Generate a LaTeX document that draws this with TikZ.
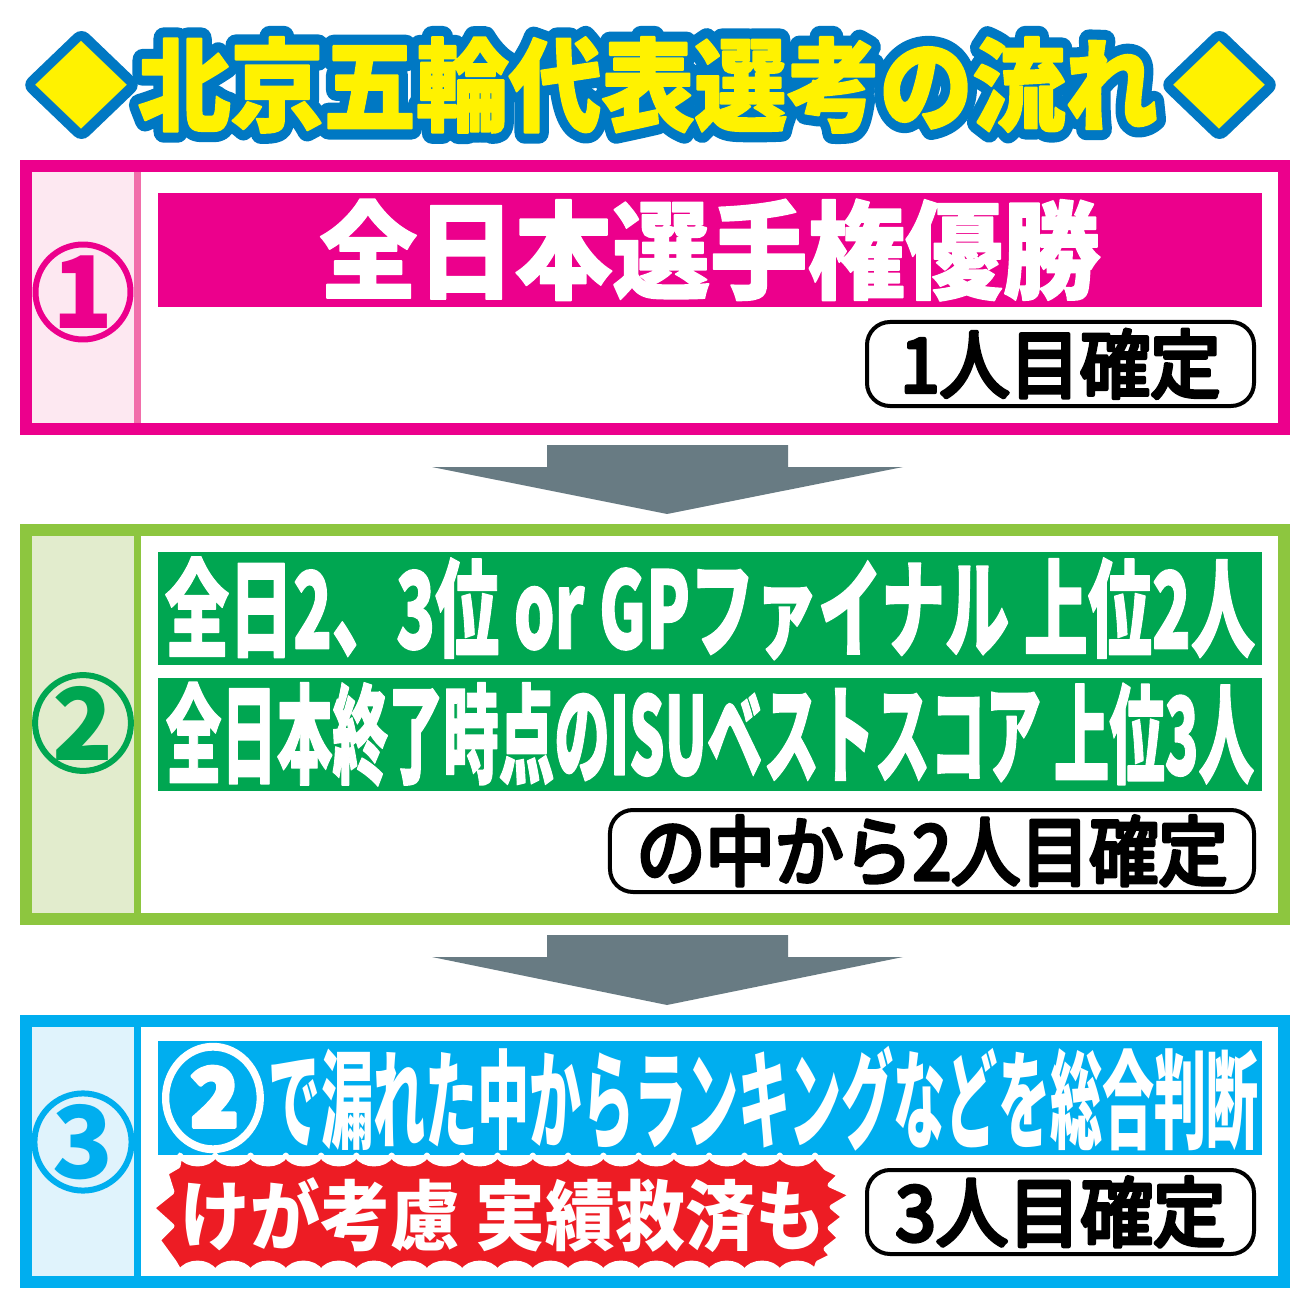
\documentclass[tikz,border=0pt]{standalone}
\usepackage{fontspec}
\usepackage{graphicx}
\usetikzlibrary{calc, positioning}
\newfontfamily\jpfont{Noto Sans CJK JP}
\definecolor{ttl_blue}{RGB}{0,120,195}
\definecolor{ttl_yellow}{RGB}{255,242,0}
\definecolor{pk}{RGB}{236,0,140}
\definecolor{pk_mid}{RGB}{241,110,170}
\definecolor{pk_light}{RGB}{253,232,241}
\definecolor{gr_border}{RGB}{141,198,63}
\definecolor{gr_light}{RGB}{226,236,205}
\definecolor{gr_bar}{RGB}{0,166,81}
\definecolor{bl}{RGB}{0,174,239}
\definecolor{bl_light}{RGB}{224,243,252}
\definecolor{burst_red}{RGB}{237,28,36}
\definecolor{arrow_grey}{RGB}{104,123,131}
% text drawn filled and stroked (#1 = stroke width)
\newcommand{\strokedtxt}[2]{\special{pdf:literal direct 2 Tr 1 j #1 w}#2\special{pdf:literal direct 0 Tr}}

\begin{document}
\begin{tikzpicture}[x=0.2mm, y=-0.2mm,
    frame/.style={draw=#1, line width=2.4mm, minimum width=251.6mm, outer sep=1.2mm, inner sep=0},
    bar/.style={fill=#1, text=white, minimum width=220.8mm, inner sep=0, font=\jpfont\bfseries},
    result/.style={draw=black, fill=white, line width=0.8mm, rounded corners=4.6mm, inner sep=0, font=\jpfont},
    num/.style={circle, draw=#1, text=#1, line width=1.2mm, minimum size=17.2mm, inner sep=0, font=\jpfont\bfseries\fontsize{57}{57}\selectfont},
    ttl/.style={inner sep=0, font=\jpfont\bfseries},
    flowarrow/.style={fill=arrow_grey}]
    \fill[white] (0,0) rectangle (1300,1298);

    % title: blue outlined copy under the yellow one
    \node[ttl, text=ttl_blue] (ttl_o) at (648,85) {\resizebox*{204mm}{19.2mm}{\strokedtxt{2.2}{北京五輪代表選考の流れ}}};
    \node[ttl, text=ttl_blue] (dl_o) at (81.5,85) {\resizebox*{18.8mm}{17.6mm}{\strokedtxt{2.2}{◆}}};
    \node[ttl, text=ttl_blue] (dr_o) at (1219.5,85) {\resizebox*{18.8mm}{17.6mm}{\strokedtxt{2.2}{◆}}};
    \node[ttl, text=ttl_yellow] (ttl) at (ttl_o) {\resizebox*{204mm}{19.2mm}{\strokedtxt{0.2}{北京五輪代表選考の流れ}}};
    \node[ttl, text=ttl_yellow] (dl) at (dl_o) {\resizebox*{18.8mm}{17.6mm}{◆}};
    \node[ttl, text=ttl_yellow] (dr) at (dr_o) {\resizebox*{18.8mm}{17.6mm}{◆}};

    % left columns
    \foreach \t/\b/\cl/\cm in {172/423/pk_light/pk_mid, 536/913/gr_light/gr_border, 1027/1276/bl_light/bl} {
        \fill[\cl] (32,\t) rectangle (134,\b);
        \draw[\cm, line width=1.4mm] (137.5,\t) -- (137.5,\b);
    }

    \node[frame=pk, minimum height=52.6mm] (box1) at (655,297.5) {};
    \node[frame=gr_border, minimum height=77.8mm] (box2) at (655,724.5) {};
    \node[frame=bl, minimum height=52.2mm] (box3) at (655,1151.5) {};

    \node[num=pk] (n1) at (83,292) {1};
    \node[num=gr_bar] (n2) at (83,723) {2};
    \node[num=bl] (n3) at (83,1142) {3};

    % step 1
    \node[bar=pk, minimum height=22.8mm] (bar1) at (710,250) {\resizebox*{156.2mm}{20.4mm}{\strokedtxt{0.15}{全日本選手権優勝}}\hspace{6.8mm}};
    \node[result, minimum width=77.4mm, minimum height=16.8mm] (res1) at (1060.5,364) {\resizebox*{64mm}{13.8mm}{\strokedtxt{0.55}{1人目確定}}};

    % step 2
    \node[bar=gr_bar, minimum height=22.6mm] (bar2a) at (710,608.5) {\resizebox*{218mm}{20.6mm}{\strokedtxt{0.15}{全日2、3位 or GPファイナル 上位2人}}};
    \node[bar=gr_bar, minimum height=22.6mm, below=2.4mm of bar2a] (bar2b) {\resizebox*{217.6mm}{20.8mm}{\strokedtxt{0.15}{全日本終了時点のISUベストスコア 上位3人}}};
    \node[result, minimum width=128.8mm, minimum height=16.4mm] (res2) at (932,851) {\resizebox*{118.2mm}{14mm}{\strokedtxt{0.55}{の中から2人目確定}}};

    % step 3
    \node[bar=bl, minimum height=22.8mm] (bar3) at (710,1098) {\resizebox*{20.8mm}{21.4mm}{\strokedtxt{0.3}{②}}\hspace{0.8mm}\resizebox*{198mm}{21mm}{で漏れた中からランキングなどを総合判断}};
    \filldraw[fill=burst_red, draw=white, line width=1mm, line join=round]
        (180,1155) \foreach \k in {1,...,18} { to[bend right=60] ({180+\k*35.28},1155) }
        -- (826,1168) -- (840,1175) -- (830,1185) -- (852,1195) -- (832,1207) -- (844,1217)
        -- (830,1228) -- (840,1238) -- (826,1249) -- (832,1256) -- (818,1263) -- (815,1272)
        \foreach \k in {1,...,18} { to[bend right=60] ({815-\k*35.28},1272) }
        -- (174,1262) -- (158,1240) -- (172,1226) -- (152,1208) -- (172,1192)
        -- (166,1173) -- (178,1166) -- cycle;
    \node[ttl, text=white] (burst) at (503,1215) {\resizebox*{129mm}{15mm}{けが考慮 実績救済も}};
    \node[result, minimum width=77.4mm, minimum height=16.8mm] (res3) at (1060.5,1212) {\resizebox*{66mm}{14mm}{\strokedtxt{0.55}{3人目確定}}};

    % arrows between steps
    \foreach \a/\b in {box1/box2, box2/box3}
        \fill[flowarrow] ($(\a.south)+(-108,10)$) -- ++(241,0) -- ++(0,22) -- ++(115,0)
            -- ($(\b.north)+(12,-10)$) -- ($(\a.south)+(-223,32)$) -- ++(115,0) -- cycle;
\end{tikzpicture}
\end{document}
